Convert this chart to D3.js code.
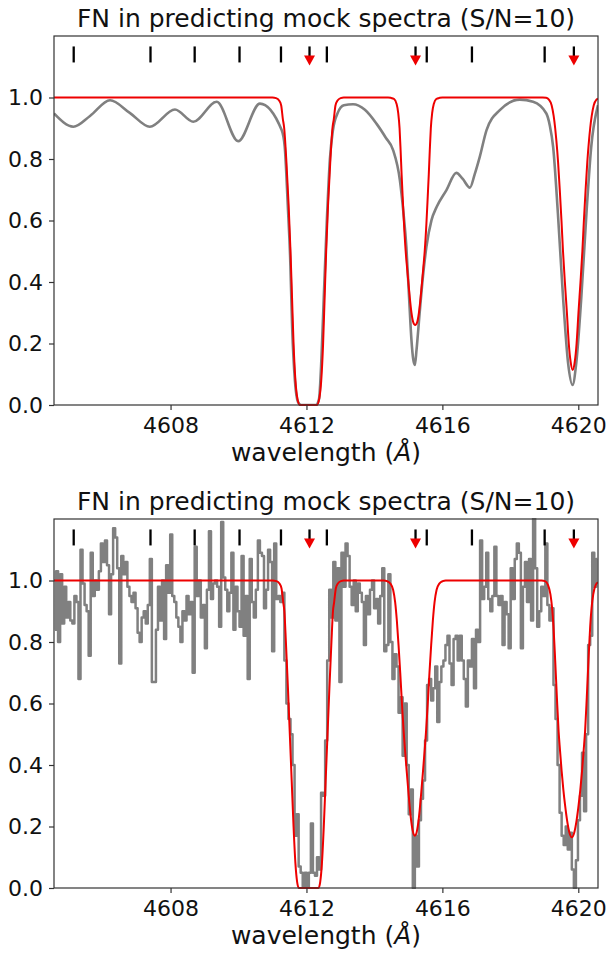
<!DOCTYPE html>
<html>
<head>
<meta charset="utf-8">
<script src="https://cdn.jsdelivr.net/npm/d3@7"></script>
<style>
  html, body { margin: 0; padding: 0; background: #fff; }
  svg { display: block; font-family: "DejaVu Sans", sans-serif; }
</style>
</head>
<body>
<svg id="chart" width="610" height="953"></svg>
<script>
// ---------------- DATA ----------------
const titleText = "FN in predicting mock spectra (S/N=10)";
const xDomain = [4604.57, 4620.58];
const yDomain = [0, 1.2];
const xTickValues = [4608, 4612, 4616, 4620];
const yTickValues = [0, 0.2, 0.4, 0.6, 0.8, 1.0];

// line-list positions (black ticks) and predicted lines (red arrows)
const lineWl = [4605.15, 4607.41, 4608.71, 4610.03, 4611.25, 4612.60, 4615.54, 4616.87, 4619.01];
const predWl = [4612.09, 4615.21, 4619.87];
const markerLevel = 1.14;

// top panel: noise-free mock spectrum (gray)
const smoothWl = [4604.57, 4605.14, 4605.63, 4606.22, 4606.80, 4607.39, 4608.13, 4608.67, 4609.36, 4609.99,
  4610.63, 4611.27, 4611.36, 4611.45, 4611.52, 4611.58, 4611.66, 4611.75, 4611.84, 4612.28,
  4612.37, 4612.44, 4612.51, 4612.60, 4612.69, 4612.78, 4612.92, 4613.10, 4613.37, 4613.72,
  4614.06, 4614.33, 4614.55, 4614.75, 4614.85, 4614.94, 4615.02, 4615.09, 4615.14, 4615.19,
  4615.24, 4615.33, 4615.43, 4615.53, 4615.68, 4615.83, 4616.12, 4616.41, 4616.60, 4616.81,
  4616.95, 4617.10, 4617.30, 4617.69, 4618.28, 4618.67, 4619.06, 4619.16, 4619.26, 4619.40,
  4619.55, 4619.70, 4619.83, 4619.94, 4620.09, 4620.24, 4620.38, 4620.58];
const smoothFlux = [0.948, 0.905, 0.94, 0.991, 0.95, 0.905, 0.961, 0.921, 0.986, 0.858,
  0.980, 0.894, 0.84, 0.65, 0.48, 0.25, 0.08, 0.01, 0.0, 0.0,
  0.02, 0.15, 0.35, 0.6, 0.8, 0.894, 0.95, 0.975, 0.978, 0.96,
  0.915, 0.87, 0.829, 0.731, 0.63, 0.514, 0.35, 0.211, 0.15, 0.130,
  0.18, 0.298, 0.42, 0.514, 0.601, 0.644, 0.699, 0.755, 0.735, 0.707,
  0.75, 0.807, 0.894, 0.959, 0.993, 0.986, 0.948, 0.91, 0.839, 0.623,
  0.352, 0.136, 0.065, 0.136, 0.352, 0.623, 0.839, 0.975];

// top panel: model prediction (red)
const redTopWl = [4604.57, 4611.00, 4611.105, 4611.195, 4611.255, 4611.305, 4611.345, 4611.405, 4611.475, 4611.53,
  4611.575, 4611.62, 4611.675, 4611.735, 4611.805, 4612.305, 4612.375, 4612.435, 4612.49, 4612.535,
  4612.58, 4612.635, 4612.705, 4612.765, 4612.805, 4612.855, 4612.915, 4613.005, 4613.10,
  4614.40, 4614.48, 4614.58, 4614.65, 4614.70, 4614.74, 4614.77, 4614.80, 4614.83, 4614.87, 4614.92,
  4614.95, 4614.99, 4615.04, 4615.09, 4615.14, 4615.20, 4615.26, 4615.31, 4615.36, 4615.41,
  4615.45, 4615.48, 4615.53, 4615.57, 4615.60, 4615.63, 4615.66, 4615.70, 4615.75, 4615.82, 4615.92, 4616.00,
  4618.95, 4619.055, 4619.135, 4619.215, 4619.275, 4619.32, 4619.355, 4619.405, 4619.455, 4619.505,
  4619.55, 4619.605, 4619.665, 4619.72, 4619.775, 4619.835, 4619.895, 4619.95, 4620.005, 4620.065,
  4620.12, 4620.165, 4620.215, 4620.265, 4620.315, 4620.35, 4620.395, 4620.455, 4620.535, 4620.58];
const redTopFlux = [1.0, 1.0, 0.998, 0.99, 0.975, 0.93, 0.90, 0.80, 0.65, 0.50,
  0.35, 0.20, 0.08, 0.02, 0.0, 0.0, 0.02, 0.08, 0.20, 0.35,
  0.50, 0.65, 0.80, 0.90, 0.93, 0.975, 0.99, 0.998, 1.0,
  1.0, 0.999, 0.995, 0.98, 0.95, 0.90, 0.83, 0.75, 0.68, 0.59, 0.50,
  0.46, 0.41, 0.35, 0.30, 0.27, 0.26, 0.27, 0.30, 0.35, 0.41,
  0.46, 0.50, 0.59, 0.68, 0.75, 0.83, 0.90, 0.95, 0.98, 0.995, 0.999, 1.0,
  1.0, 0.999, 0.993, 0.975, 0.94, 0.90, 0.86, 0.79, 0.70, 0.60,
  0.50, 0.40, 0.30, 0.20, 0.14, 0.114, 0.14, 0.20, 0.30, 0.40,
  0.50, 0.60, 0.70, 0.79, 0.86, 0.90, 0.94, 0.975, 0.993, 0.996];

// bottom panel: noisy mock spectrum (S/N=10), binned on a uniform grid
const noisyStart = 4604.60;
const noisyStep = 0.06;
const noisyFlux = [
  0.84, 1.03, 0.80, 1.02, 0.86, 0.98, 0.88, 0.93, 0.87, 0.86,
  0.95, 0.93, 0.68, 1.10, 0.99, 0.92, 0.90, 0.755, 1.09, 0.95,
  1.00, 0.97, 1.03, 1.12, 1.06, 1.13, 1.05, 0.89, 1.02, 1.17,
  1.14, 1.04, 0.73, 1.08, 1.02, 1.06, 0.98, 0.95, 0.93, 0.96,
  0.91, 0.83, 0.80, 0.88, 0.90, 0.86, 0.92, 1.07, 0.67, 0.67,
  0.84, 0.98, 0.87, 1.00, 0.81, 1.05, 0.96, 1.15, 0.95, 0.93,
  0.88, 0.85, 0.80, 0.90, 0.87, 0.95, 0.89, 0.93, 0.70, 1.11,
  0.95, 1.00, 0.88, 0.92, 0.78, 0.97, 1.16, 0.94, 0.99, 1.00,
  0.98, 0.85, 1.19, 1.01, 0.97, 0.90, 0.96, 1.09, 0.84, 0.98,
  0.90, 0.85, 1.08, 0.82, 0.95, 0.68, 1.07, 0.93, 0.88, 0.97,
  1.13, 1.09, 1.08, 0.91, 0.97, 1.10, 1.06, 0.77, 1.12, 0.94,
  0.95, 0.93, 0.96, 0.74, 0.60, 0.55, 0.50, 0.40, 0.17, 0.24,
  0.07, 0.05, 0.005, 0.05, 0.0, 0.05, 0.21, 0.05, 0.04, 0.10,
  0.06, 0.31, 0.30, 0.48, 0.74, 0.97, 0.88, 1.06, 0.87, 1.04,
  0.67, 1.09, 0.98, 1.12, 1.08, 0.98, 0.92, 1.00, 0.90, 0.99,
  0.96, 0.93, 0.79, 0.95, 0.89, 0.97, 1.00, 0.91, 0.94, 0.86,
  0.95, 1.04, 0.77, 0.79, 1.02, 0.80, 0.68, 0.76, 0.72, 0.57,
  0.62, 0.43, 0.60, 0.40, 0.24, 0.32, 0.0, 0.17, 0.07, 0.22,
  0.29, 0.35, 0.48, 0.66, 0.68, 0.61, 0.65, 0.72, 0.54, 0.67,
  0.72, 0.74, 0.79, 0.82, 0.73, 0.66, 0.81, 0.82, 0.74, 0.82,
  0.74, 0.68, 0.59, 0.74, 0.72, 0.81, 0.65, 0.84, 0.80, 1.13,
  0.94, 0.98, 1.09, 0.94, 0.90, 0.95, 1.11, 0.95, 0.92, 0.95,
  0.79, 0.93, 0.89, 0.78, 1.04, 0.94, 1.07, 1.12, 1.09, 0.78,
  0.98, 1.06, 0.93, 1.07, 0.87, 1.25, 1.04, 0.85, 0.90, 0.98,
  0.95, 1.12, 0.92, 0.87, 0.91, 0.66, 0.55, 0.40, 0.245, 0.17,
  0.14, 0.20, 0.125, 0.18, 0.06, 0.0, 0.09, 0.22, 0.30, 0.44,
  0.25, 0.50, 0.79, 0.82, 1.09, 0.98, 1.07];

// bottom panel: model prediction (red)
const redBotWl = [4604.57, 4611.00, 4611.115, 4611.205, 4611.265, 4611.315, 4611.35, 4611.395, 4611.455, 4611.51,
  4611.565, 4611.62, 4611.675, 4611.725, 4611.775, 4612.355, 4612.405, 4612.455, 4612.51, 4612.565,
  4612.62, 4612.675, 4612.735, 4612.78, 4612.815, 4612.865, 4612.925, 4613.015, 4613.10,
  4614.28, 4614.37, 4614.47, 4614.55, 4614.61, 4614.66, 4614.71, 4614.76, 4614.81, 4614.86, 4614.90,
  4614.95, 4615.01, 4615.07, 4615.13, 4615.19, 4615.25, 4615.31, 4615.37, 4615.43, 4615.48,
  4615.52, 4615.57, 4615.62, 4615.67, 4615.72, 4615.77, 4615.83, 4615.91, 4616.01, 4616.10,
  4618.92, 4619.02, 4619.11, 4619.18, 4619.23, 4619.27, 4619.32, 4619.37, 4619.42, 4619.46,
  4619.51, 4619.56, 4619.61, 4619.67, 4619.74, 4619.81, 4619.88, 4619.95, 4620.01, 4620.06,
  4620.11, 4620.16, 4620.20, 4620.25, 4620.30, 4620.35, 4620.39, 4620.44, 4620.51, 4620.58];
const redBotFlux = [1.0, 1.0, 0.998, 0.99, 0.975, 0.93, 0.90, 0.80, 0.65, 0.50,
  0.35, 0.20, 0.08, 0.02, 0.0, 0.0, 0.02, 0.08, 0.20, 0.35,
  0.50, 0.65, 0.80, 0.90, 0.93, 0.975, 0.99, 0.998, 1.0,
  1.0, 0.998, 0.99, 0.97, 0.93, 0.87, 0.79, 0.70, 0.60, 0.51, 0.45,
  0.38, 0.30, 0.23, 0.185, 0.17, 0.185, 0.23, 0.30, 0.38, 0.45,
  0.51, 0.60, 0.70, 0.79, 0.87, 0.93, 0.97, 0.99, 0.998, 1.0,
  1.0, 0.998, 0.985, 0.955, 0.91, 0.85, 0.74, 0.62, 0.51, 0.45,
  0.38, 0.32, 0.27, 0.22, 0.18, 0.165, 0.18, 0.22, 0.27, 0.32,
  0.38, 0.45, 0.51, 0.62, 0.74, 0.85, 0.91, 0.955, 0.985, 0.994];

// ---------------- DRAW ----------------
const svg = d3.select("#chart");
const left = 54, right = 598;
const font = "DejaVu Sans";

const smoothData = smoothWl.map((w, i) => [w, smoothFlux[i]]);
const noisyData = noisyFlux.map((f, i) => [noisyStart + noisyStep * i, f]);
const redTop = redTopWl.map((w, i) => [w, redTopFlux[i]]);
const redBot = redBotWl.map((w, i) => [w, redBotFlux[i]]);

const panels = [
  { top: 36, bottom: 405, gray: smoothData, grayCurve: d3.curveMonotoneX, grayWidth: 2.6, red: redTop, id: "p0" },
  { top: 519, bottom: 888, gray: noisyData, grayCurve: d3.curveStep, grayWidth: 2.5, red: redBot, id: "p1" }
];

panels.forEach(p => {
  const x = d3.scaleLinear().domain(xDomain).range([left, right]);
  const y = d3.scaleLinear().domain(yDomain).range([p.bottom, p.top]);
  const g = svg.append("g");

  g.append("clipPath").attr("id", "clip-" + p.id)
    .append("rect").attr("x", left).attr("y", p.top - 1)
    .attr("width", right - left).attr("height", p.bottom - p.top + 2);

  const plot = g.append("g").attr("clip-path", `url(#clip-${p.id})`);
  const line = d3.line().x(d => x(d[0])).y(d => y(d[1]));

  plot.append("path").datum(p.gray)
    .attr("d", line.curve(p.grayCurve))
    .attr("fill", "none").attr("stroke", "#808080")
    .attr("stroke-width", p.grayWidth).attr("stroke-linejoin", "round");

  plot.append("path").datum(p.red)
    .attr("d", d3.line().x(d => x(d[0])).y(d => y(d[1])).curve(d3.curveMonotoneX))
    .attr("fill", "none").attr("stroke", "#ee0000")
    .attr("stroke-width", 2);

  // markers
  const ym = y(markerLevel);
  plot.selectAll(".lt").data(lineWl.concat(predWl)).enter().append("line")
    .attr("x1", d => x(d)).attr("x2", d => x(d))
    .attr("y1", ym - 8).attr("y2", ym + 8)
    .attr("stroke", "#000").attr("stroke-width", 2.3);
  plot.selectAll(".pa").data(predWl).enter().append("path")
    .attr("d", d => `M${x(d) - 5.5},${ym + 1}L${x(d) + 5.5},${ym + 1}L${x(d)},${ym + 11}Z`)
    .attr("fill", "#ee0000");

  // axes
  const xAxis = d3.axisBottom(x).tickValues(xTickValues).tickFormat(d3.format("d"))
    .tickSize(5).tickPadding(7);
  const yAxis = d3.axisLeft(y).tickValues(yTickValues).tickFormat(d3.format(".1f"))
    .tickSize(5).tickPadding(6);

  const gx = g.append("g").attr("transform", `translate(0,${p.bottom})`).call(xAxis);
  const gy = g.append("g").attr("transform", `translate(${left},0)`).call(yAxis);
  [gx, gy].forEach(a => {
    a.select(".domain").remove();
    a.selectAll("line").attr("stroke", "#333").attr("stroke-width", 1.2);
    a.selectAll("text").attr("font-size", 22).attr("font-family", font).attr("fill", "#111");
  });

  g.append("rect").attr("x", left).attr("y", p.top)
    .attr("width", right - left).attr("height", p.bottom - p.top)
    .attr("fill", "none").attr("stroke", "#333").attr("stroke-width", 1.2);

  // title
  g.append("text").attr("x", (left + right) / 2).attr("y", p.top - 9)
    .attr("text-anchor", "middle").attr("font-size", 25).attr("font-family", font)
    .attr("fill", "#111").text(titleText);

  // x label
  const xl = g.append("text").attr("x", (left + right) / 2).attr("y", p.bottom + 56)
    .attr("text-anchor", "middle").attr("font-size", 25).attr("font-family", font)
    .attr("fill", "#111");
  xl.append("tspan").text("wavelength (");
  xl.append("tspan").attr("font-style", "italic").text("Å");
  xl.append("tspan").text(")");
});
</script>
</body>
</html>
